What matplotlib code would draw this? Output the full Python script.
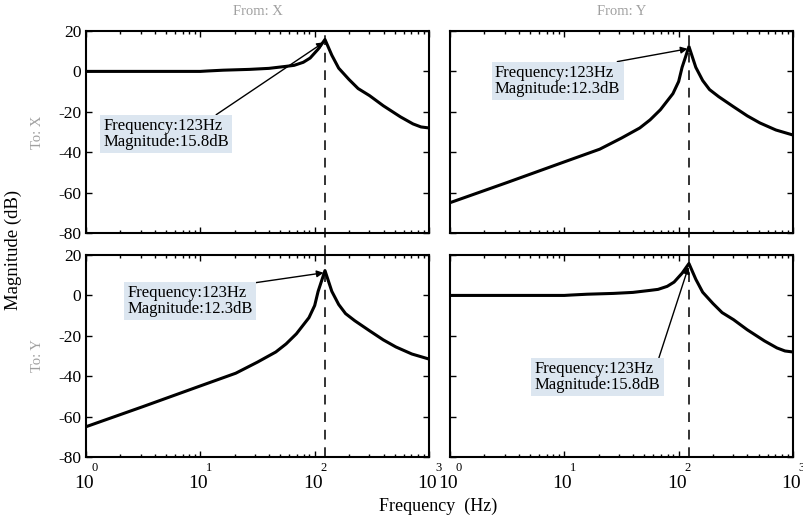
import numpy as np
import matplotlib
matplotlib.use("Agg")
import matplotlib.pyplot as plt
import matplotlib.transforms as mtrans

plt.rcParams['font.family'] = ['Liberation Serif', 'DejaVu Serif']
plt.rcParams['axes.unicode_minus'] = False

# log10 of frequency (Hz) and magnitude (dB)
# curve with a flat start (same input / output channel)
logf_a = [0.0, 0.5, 1.0, 1.06, 1.2, 1.43, 1.6, 1.75, 1.82, 1.9, 1.96, 2.03,
          2.09, 2.15, 2.21, 2.3, 2.38, 2.48, 2.6, 2.75, 2.86, 2.93, 3.0]
mag_a = [0.0, 0.0, 0.0, 0.2, 0.6, 1.0, 1.5, 2.5, 3.0, 4.5, 6.6, 11.0,
         15.8, 8.0, 1.6, -4.0, -8.5, -12.0, -17.0, -22.5, -26.0, -27.5, -28.0]
# cross-coupling curve (rising from -65 dB)
logf_b = [0.0, 0.5, 0.99, 1.31, 1.5, 1.66, 1.75, 1.84, 1.95, 2.0, 2.03,
          2.09, 2.15, 2.21, 2.27, 2.35, 2.48, 2.6, 2.71, 2.85, 3.0]
mag_b = [-65.0, -55.0, -45.0, -38.5, -33.0, -28.0, -24.0, -19.0, -11.0, -5.0, 2.0,
         12.3, 2.0, -4.5, -9.0, -12.5, -17.5, -22.0, -25.5, -29.0, -31.5]

peak_freq = 123
peak_a = 15.8
peak_b = 12.3

inputs = ['X', 'Y']
outputs = ['X', 'Y']
yticks = [20, 0, -20, -40, -60, -80]
xticks = [1, 10, 100, 1000]
xexps = ['0', '1', '2', '3']

# which curve sits in each panel, and where its label box goes (axes fraction)
panel_curve = {(0, 0): 'a', (0, 1): 'b', (1, 0): 'b', (1, 1): 'a'}
box_pos = {(0, 0): (0.05, 0.569), (0, 1): (0.131, 0.832),
           (1, 0): (0.12, 0.851), (1, 1): (0.247, 0.475)}
arrow_rel = {(0, 0): (0.86, 1.0), (0, 1): (0.83, 1.0),
             (1, 0): (0.89, 1.0), (1, 1): (0.98, 1.0)}

fig = plt.figure(figsize=(8.04, 5.21), dpi=100)

lefts = [0.107, 0.5597]
bottoms = [0.5528, 0.1228]
w, h = 0.4266, 0.3877

for r in range(2):
    for c in range(2):
        ax = fig.add_axes([lefts[c], bottoms[r], w, h])
        kind = panel_curve[(r, c)]
        if kind == 'a':
            f = 10 ** np.array(logf_a)
            m = np.array(mag_a)
            pk = peak_a
        else:
            f = 10 ** np.array(logf_b)
            m = np.array(mag_b)
            pk = peak_b
        ax.semilogx(f, m, color='black', lw=2.2)
        ax.set_xlim(1, 1000)
        ax.set_ylim(-80, 20)
        ax.set_yticks(yticks)
        ax.set_xticks(xticks)

        # dashed marker line at the resonance, runs through the gap between rows
        ymin = -0.11 if r == 0 else 0.0
        ax.axvline(peak_freq, ymin=ymin, ymax=1.01, color='#333333', lw=1.4,
                   ls=(0, (5, 4)), clip_on=False, zorder=1)

        ax.tick_params(which='both', direction='in', top=True, right=True,
                       labelsize=12.5, width=1)
        ax.tick_params(which='major', length=4)
        ax.tick_params(which='minor', length=2.5)
        ax.tick_params(axis='x', pad=13)
        for s in ax.spines.values():
            s.set_linewidth(1.5)

        if r == 0:
            ax.set_xticklabels([])
        else:
            ax.set_xticklabels(['10'] * len(xticks), fontsize=14)
            # nudge the "10" a little left of the tick
            for lab in ax.get_xticklabels():
                lab.set_transform(lab.get_transform() +
                                  mtrans.ScaledTranslation(-2 / 100, 0, fig.dpi_scale_trans))
            # exponents sit high and to the right, like the original
            base = mtrans.blended_transform_factory(ax.transData, ax.transAxes)
            for xt, e in zip(xticks, xexps):
                tr = mtrans.offset_copy(base, fig=fig, x=9, y=-11, units='dots')
                ax.text(xt, 0, e, transform=tr, fontsize=9, ha='center', va='center')
        if c == 0:
            ax.set_yticklabels([str(v) for v in yticks])
        else:
            ax.set_yticklabels([])

        txt = 'Frequency:%dHz\nMagnitude:%.1fdB' % (peak_freq, pk)
        ax.annotate(txt, xy=(peak_freq, pk - 1), xycoords='data',
                    xytext=box_pos[(r, c)], textcoords='axes fraction',
                    ha='left', va='top', fontsize=12, linespacing=1.0,
                    bbox=dict(boxstyle='square,pad=0.2', fc='#dce6f0', ec='none'),
                    arrowprops=dict(arrowstyle='-|>', color='black', lw=1,
                                    mutation_scale=10, relpos=arrow_rel[(r, c)],
                                    shrinkA=0, shrinkB=1))

        if r == 0:
            fig.text(lefts[c] + w / 2, 0.977, 'From: ' + inputs[c], fontsize=10.5,
                     color='#a0a0a0', ha='center', va='center')
        if c == 0:
            fig.text(0.0466, bottoms[r] + h / 2, 'To: ' + outputs[r], rotation=90,
                     fontsize=10.5, color='#a0a0a0', ha='center', va='center')

fig.text(0.016, 0.52, 'Magnitude (dB)', rotation=90, fontsize=13.5,
         ha='center', va='center')
fig.text(0.545, 0.028, 'Frequency  (Hz)', fontsize=13, ha='center', va='center')

fig.savefig('out.png', dpi=100)
